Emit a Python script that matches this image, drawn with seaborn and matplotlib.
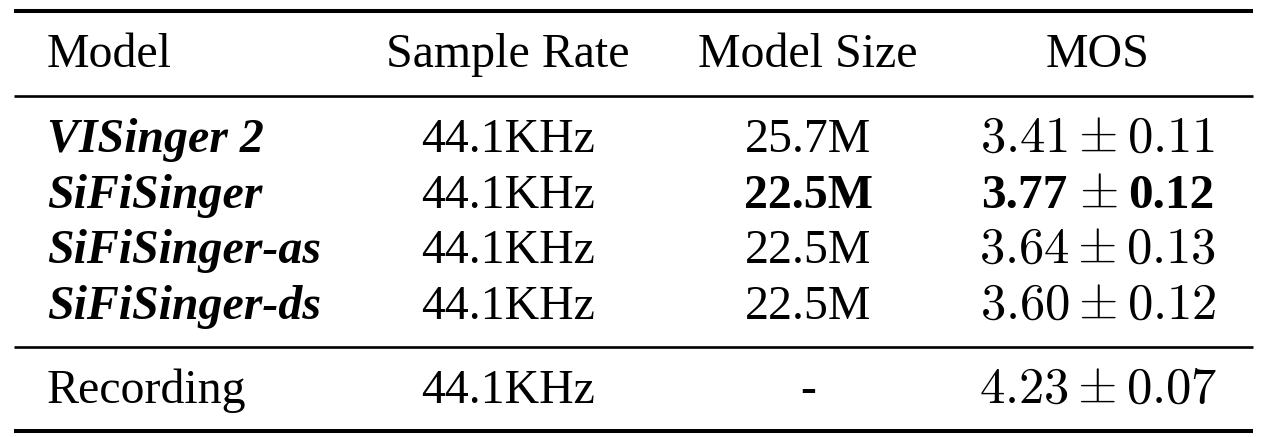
import matplotlib
matplotlib.use("Agg")
import matplotlib.pyplot as plt
import seaborn as sns

# ---- table content ----
headers = ["Model", "Sample Rate", "Model Size", "MOS"]
models = ["VISinger 2", "SiFiSinger", "SiFiSinger-as", "SiFiSinger-ds", "Recording"]
sample_rates = ["44.1KHz", "44.1KHz", "44.1KHz", "44.1KHz", "44.1KHz"]
model_sizes = ["25.7M", "22.5M", "22.5M", "22.5M", "-"]
mos_mean = ["3.41", "3.77", "3.64", "3.60", "4.23"]
mos_ci = ["0.11", "0.12", "0.13", "0.12", "0.07"]
italic_model = [True, True, True, True, False]
best_row = [False, True, False, False, False]

sns.set_theme(style="white")
plt.rcParams["font.family"] = ["Liberation Serif", "DejaVu Serif"]
plt.rcParams["mathtext.fontset"] = "cm"

W, H = 1265, 437
fig = plt.figure(figsize=(W / 100, H / 100), dpi=100)
ax = fig.add_axes([0, 0, 1, 1])
ax.set_xlim(0, W)
ax.set_ylim(H, 0)
ax.axis("off")

fs = 34.5
mfs = 36.5
col_x = [47, 508, 808, 1098]
header_y = 67
row_y = [152, 208, 263, 319, 403]

# rules
x0, x1 = 14, 1253
ax.hlines([11, 431], x0, x1, color="black", linewidth=2.9)
ax.hlines([96, 347], x0, x1, color="black", linewidth=1.9)

renderer = fig.canvas.get_renderer()

# header
for i, h in enumerate(headers):
    ha = "left" if i == 0 else "center"
    ax.text(col_x[i], header_y, h, ha=ha, va="baseline", fontsize=fs, color="black")

for r in range(len(models)):
    y = row_y[r]
    if italic_model[r]:
        ax.text(col_x[0], y, models[r], ha="left", va="baseline", fontsize=fs,
                fontweight="bold", fontstyle="italic", color="black")
    else:
        ax.text(col_x[0], y, models[r], ha="left", va="baseline", fontsize=fs, color="black")
    ax.text(col_x[1], y, sample_rates[r], ha="center", va="baseline", fontsize=fs, color="black")
    ax.text(col_x[2], y, model_sizes[r], ha="center", va="baseline", fontsize=fs,
            fontweight="bold" if best_row[r] else "normal", color="black")
    if best_row[r]:
        # bold numbers (Times-like bold) with a regular plus-minus sign between
        parts = [
            (mos_mean[r], dict(fontsize=fs + 1, fontweight="bold")),
            (r"$\pm$", dict(fontsize=mfs)),
            (mos_ci[r], dict(fontsize=fs + 1, fontweight="bold")),
        ]
        gap = 11
        tmp = []
        for s, kw in parts:
            t = ax.text(0, y, s, ha="left", va="baseline", color="black", **kw)
            tmp.append(t)
        widths = [t.get_window_extent(renderer).width for t in tmp]
        total = sum(widths) + 2 * gap
        x = col_x[3] - total / 2
        for t, w in zip(tmp, widths):
            t.set_x(x)
            x += w + gap
    else:
        s = r"$%s \pm %s$" % (mos_mean[r], mos_ci[r])
        ax.text(col_x[3], y, s, ha="center", va="baseline", fontsize=mfs, color="black")

fig.savefig("out.png", dpi=100, facecolor="white")
